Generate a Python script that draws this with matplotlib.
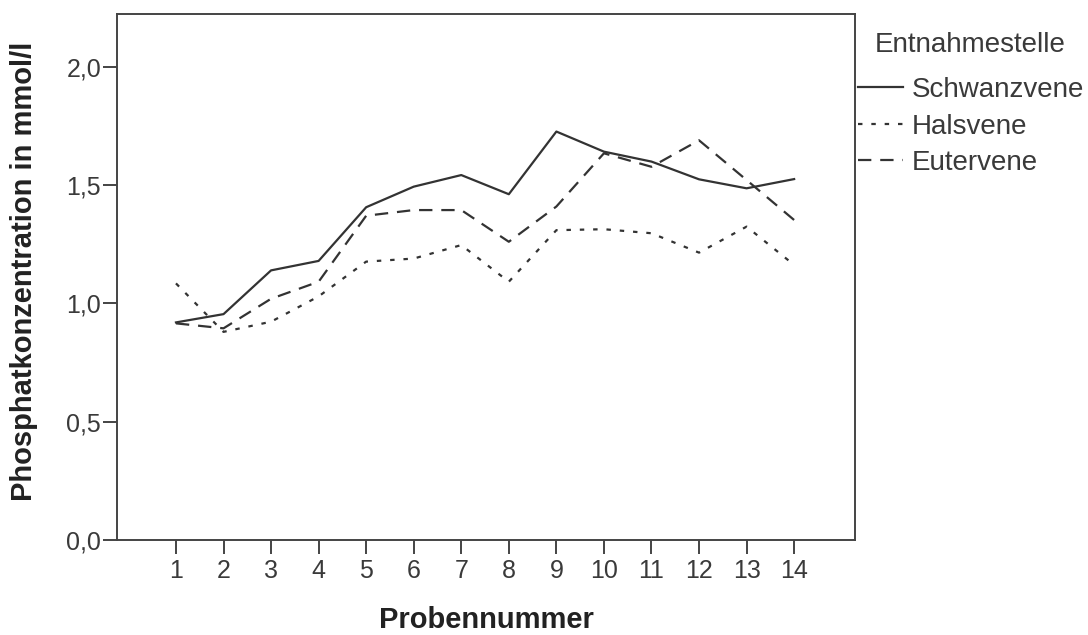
import matplotlib.pyplot as plt
from matplotlib.ticker import FuncFormatter

plt.rcParams['font.family'] = ['Liberation Sans', 'DejaVu Sans']

# --- data ---
proben = list(range(1, 15))
schwanzvene = [0.92, 0.955, 1.14, 1.18, 1.407, 1.494, 1.543, 1.462, 1.727, 1.642, 1.60, 1.525, 1.487, 1.526]
halsvene = [1.085, 0.88, 0.923, 1.03, 1.177, 1.19, 1.247, 1.092, 1.31, 1.314, 1.297, 1.215, 1.325, 1.163]
eutervene = [0.916, 0.895, 1.02, 1.092, 1.371, 1.395, 1.395, 1.261, 1.41, 1.635, 1.578, 1.69, 1.522, 1.353]
y_ticks = [0.0, 0.5, 1.0, 1.5, 2.0]

line_col = '#333333'
text_col = '#3a3a3a'

fig = plt.figure(figsize=(10.88, 6.35), dpi=100)
ax = fig.add_axes([117 / 1088, 1 - 540 / 635, 738 / 1088, 526 / 635])

ax.plot(proben, schwanzvene, color=line_col, lw=1.6, label='Schwanzvene')
ax.plot(proben, halsvene, color=line_col, lw=1.6, linestyle=(0, (2, 4)), label='Halsvene')
ax.plot(proben, eutervene, color=line_col, lw=1.6, linestyle=(0, (6, 4)), label='Eutervene')

ax.set_xlim(-0.24, 15.28)
ax.set_ylim(0, 2.224)
ax.set_xticks(proben)
ax.set_yticks(y_ticks)
ax.yaxis.set_major_formatter(FuncFormatter(lambda v, p: f'{v:.1f}'.replace('.', ',')))

for s in ax.spines.values():
    s.set_color('#444444')
    s.set_linewidth(1.4)
ax.tick_params(axis='both', labelsize=18, colors='#444444', length=10, width=1.4,
               labelcolor=text_col)
ax.tick_params(axis='x', pad=4)
ax.tick_params(axis='y', pad=1.5)

ax.set_xlabel('Probennummer', fontsize=21, fontweight='bold', color='#222222')
ax.xaxis.set_label_coords(0.5, -0.125)
ax.set_ylabel('Phosphatkonzentration in mmol/l', fontsize=21, fontweight='bold', color='#222222')
ax.yaxis.set_label_coords(-0.107, 0.51)

# legend title placed separately (it is indented relative to the handles)
fig.text(875 / 1088, 1 - 45 / 635, 'Entnahmestelle', fontsize=20, color=text_col,
         ha='left', va='center')
ax.legend(loc='upper left', bbox_to_anchor=(858 / 1088, 1 - 77 / 635),
          bbox_transform=fig.transFigure, frameon=False, fontsize=20,
          handlelength=1.62, handletextpad=0.32, labelspacing=0.38,
          borderaxespad=0.0, borderpad=0.0, labelcolor=text_col)

plt.savefig('out.png', dpi=100)
